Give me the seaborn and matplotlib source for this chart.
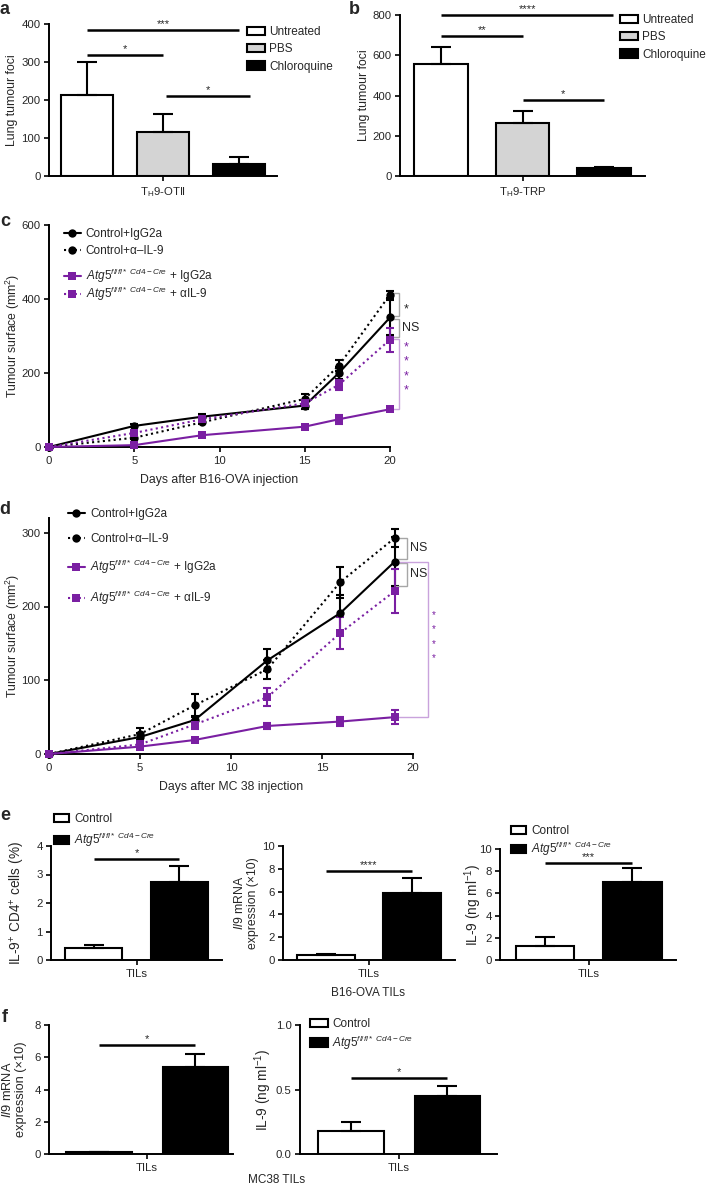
import numpy as np
import pandas as pd
import matplotlib
matplotlib.use("Agg")
import matplotlib.pyplot as plt
import seaborn as sns
from matplotlib.patches import Patch
from matplotlib.lines import Line2D

# ---------------- data ----------------
treatments = ["Untreated", "PBS", "Chloroquine"]
treat_colors = ["white", "#d4d4d4", "black"]
a_means = [212, 115, 32]
a_errs = [88, 48, 18]
b_means = [558, 262, 40]
b_errs = [84, 63, 3]

c_days = [0, 5, 9, 15, 17, 20]
c_ctrl_igg = [0, 57, 82, 112, 200, 350]
c_ctrl_igg_err = [0, 4, 8, 10, 15, 46]
c_ctrl_il9 = [0, 25, 67, 130, 220, 412]
c_ctrl_il9_err = [0, 4, 6, 12, 15, 10]
c_atg_igg = [0, 5, 32, 55, 75, 102]
c_atg_igg_err = [0, 3, 4, 4, 12, 4]
c_atg_il9 = [0, 38, 75, 118, 168, 290]
c_atg_il9_err = [0, 4, 6, 8, 14, 32]

d_days = [0, 5, 8, 12, 16, 19]
d_ctrl_igg = [0, 23, 46, 127, 191, 261]
d_ctrl_igg_err = [0, 5, 6, 15, 25, 33]
d_ctrl_il9 = [0, 27, 66, 115, 233, 293]
d_ctrl_il9_err = [0, 8, 16, 13, 21, 12]
d_atg_igg = [0, 10, 19, 38, 44, 50]
d_atg_igg_err = [0, 3, 2, 4, 6, 9]
d_atg_il9 = [0, 13, 40, 77, 164, 221]
d_atg_il9_err = [0, 3, 6, 12, 22, 30]

genotypes = ["Control", "Atg5"]
geno_colors = ["white", "black"]
e1_means = [0.42, 2.75]
e1_errs = [0.10, 0.55]
e2_means = [0.45, 5.9]
e2_errs = [0.05, 1.3]
e3_means = [1.25, 7.0]
e3_errs = [0.8, 1.25]
f1_means = [0.1, 5.4]
f1_errs = [0.02, 0.8]
f2_means = [0.18, 0.45]
f2_errs = [0.07, 0.08]

PURPLE = "#7a1fa2"
LPURPLE = "#c9a3dc"
GRAY = "#a6a6a6"

# ---------------- style ----------------
sns.set_theme(style="ticks")
plt.rcParams["font.family"] = ["Liberation Sans", "DejaVu Sans"]
plt.rcParams["mathtext.fontset"] = "custom"
plt.rcParams["mathtext.rm"] = "Liberation Sans"
plt.rcParams["mathtext.it"] = "Liberation Sans:italic"
plt.rcParams["mathtext.bf"] = "Liberation Sans:bold"
plt.rcParams["axes.linewidth"] = 1.4
plt.rcParams["xtick.major.width"] = 1.4
plt.rcParams["ytick.major.width"] = 1.4
plt.rcParams["xtick.major.size"] = 3.5
plt.rcParams["ytick.major.size"] = 3.5
plt.rcParams["xtick.labelsize"] = 8.2
plt.rcParams["ytick.labelsize"] = 8.2
plt.rcParams["axes.labelsize"] = 8.8
plt.rcParams["xtick.major.pad"] = 3
plt.rcParams["ytick.major.pad"] = 2.5
plt.rcParams["axes.edgecolor"] = "black"

W, H = 706, 1186
fig = plt.figure(figsize=(W / 100, H / 100), dpi=100)


def axes_px(x0, x1, ytop, ybot):
    ax = fig.add_axes([x0 / W, 1 - ybot / H, (x1 - x0) / W, (ybot - ytop) / H])
    ax._px = (x0, x1)
    return ax


def ftext(x, y, s, **kw):
    fig.text(x / W, 1 - y / H, s, **kw)


def place_ylabel(ax, x_px):
    x0, x1 = ax._px
    ax.yaxis.set_label_coords((x_px - x0) / (x1 - x0), 0.5)
    ax.yaxis.label.set_verticalalignment("center")


def bar_panel(ax, cat, means, errs, levels, colors, gap, xlim, ylim, yticks, ylabel, ylab_x,
              ylab_fs=8.8):
    df = pd.DataFrame({"group": [cat] * len(levels), "level": levels, "value": means})
    sns.barplot(data=df, x="group", y="value", hue="level", hue_order=levels,
                palette=colors, edgecolor="black", linewidth=1.5, gap=gap, width=0.8,
                errorbar=None, legend=False, saturation=1, ax=ax)
    centers = []
    for p, m, e in zip(ax.patches, means, errs):
        cx = p.get_x() + p.get_width() / 2
        centers.append(cx)
        ax.errorbar(cx, m, yerr=[[0], [e]], fmt="none", ecolor="black", elinewidth=1.5,
                    capsize=7, capthick=1.5, zorder=1)
    ax.set_xlim(*xlim)
    ax.set_ylim(*ylim)
    ax.set_yticks(yticks)
    ax.set_xticks([0])
    ax.set_xticklabels([cat])
    ax.set_xlabel("")
    ax.set_ylabel(ylabel, fontsize=ylab_fs)
    place_ylabel(ax, ylab_x)
    sns.despine(ax=ax)
    return centers


def sig(ax, x1, x2, y, text, fs=8):
    ax.plot([x1, x2], [y, y], color="black", lw=1.8, solid_capstyle="butt", clip_on=False)
    ax.annotate(text, xy=((x1 + x2) / 2, y), xytext=(0, 0.5), textcoords="offset points",
                ha="center", va="bottom", fontsize=fs)


def bar_legend(ax, labels, colors, x_px, y_px, fs=8.5, spacing=0.45, hl=1.5, hh=0.7):
    handles = [Patch(facecolor=c, edgecolor="black", linewidth=1.5) for c in colors]
    ax.legend(handles, labels, loc="upper left", bbox_to_anchor=(x_px / W, 1 - y_px / H),
              bbox_transform=fig.transFigure, frameon=False, borderpad=0, borderaxespad=0,
              handlelength=hl, handleheight=hh, handletextpad=0.4, labelspacing=spacing,
              fontsize=fs)


# ---------------- panel a ----------------
ax_a = axes_px(49, 277, 24, 176)
ca = bar_panel(ax_a, r"T$_\mathregular{H}$9-OTII", a_means, a_errs, treatments, treat_colors,
               0.32, (-0.4, 0.4), (0, 400), [0, 100, 200, 300, 400], "Lung tumour foci", 12)
sig(ax_a, ca[0], ca[2], 384, "***")
sig(ax_a, ca[0], ca[1], 318, "*")
sig(ax_a, ca[1] + 0.01, ca[2] + 0.04, 210, "*")
bar_legend(ax_a, treatments, treat_colors, 247, 26)

# ---------------- panel b ----------------
ax_b = axes_px(400, 645, 15, 176)
cb = bar_panel(ax_b, r"T$_\mathregular{H}$9-TRP", b_means, b_errs, treatments, treat_colors,
               0.34, (-0.4, 0.4), (0, 800), [0, 200, 400, 600, 800], "Lung tumour foci", 364)
sig(ax_b, cb[0], cb[2] + 0.03, 800, "****")
sig(ax_b, cb[0], cb[1], 696, "**")
sig(ax_b, cb[1], cb[2], 378, "*")
bar_legend(ax_b, treatments, treat_colors, 620, 14)

# ---------------- line panels ----------------
series_labels = [
    "Control+IgG2a",
    "Control+α–IL-9",
    r"$\mathit{Atg5}^{\mathit{fl/fl*\ Cd4-Cre}}$ + IgG2a",
    r"$\mathit{Atg5}^{\mathit{fl/fl*\ Cd4-Cre}}$ + αIL-9",
]
series_colors = ["black", "black", PURPLE, PURPLE]
DOT = (1, 1.6)
series_dashes = ["", DOT, "", DOT]
series_markers = ["o", "o", "s", "s"]


def line_panel(ax, days, vals, errs, xlim, ylim, yticks, xlabel):
    rows = []
    for lab, v in zip(series_labels, vals):
        for dd, vv in zip(days, v):
            rows.append({"day": dd, "value": vv, "series": lab})
    df = pd.DataFrame(rows)
    sns.lineplot(data=df, x="day", y="value", hue="series", style="series",
                 hue_order=series_labels, style_order=series_labels,
                 palette=dict(zip(series_labels, series_colors)),
                 dashes=dict(zip(series_labels, series_dashes)),
                 markers=dict(zip(series_labels, series_markers)),
                 markersize=6, markeredgewidth=0, linewidth=1.5, errorbar=None,
                 legend=False, ax=ax, clip_on=False, zorder=3)
    for v, e, col in zip(vals, errs, series_colors):
        ax.errorbar(days, v, yerr=e, fmt="none", ecolor=col, elinewidth=1.5, capsize=3,
                    capthick=1.5, clip_on=False, zorder=2)
    ax.set_xlim(*xlim)
    ax.set_ylim(*ylim)
    ax.set_yticks(yticks)
    ax.set_xticks([0, 5, 10, 15, 20])
    ax.set_xlabel(xlabel, labelpad=6)
    ax.set_ylabel(r"Tumour surface (mm$^2$)")
    place_ylabel(ax, 13)
    sns.despine(ax=ax)


def line_handles(idx):
    hs = []
    for i in idx:
        ls = "-" if series_dashes[i] == "" else (0, DOT)
        hs.append(Line2D([0], [0], color=series_colors[i], linestyle=ls, lw=1.5,
                         marker=series_markers[i], markersize=6, markeredgewidth=0))
    return hs


def bracket(ax, x0, x1, ytop, ybot, color, lw=1.0):
    ax.plot([x0, x1, x1, x0], [ytop, ytop, ybot, ybot], color=color, lw=lw, clip_on=False,
            solid_joinstyle="miter")


# ---------------- panel c ----------------
ax_c = axes_px(49, 390, 225, 447)
line_panel(ax_c, c_days, [c_ctrl_igg, c_ctrl_il9, c_atg_igg, c_atg_il9],
           [c_ctrl_igg_err, c_ctrl_il9_err, c_atg_igg_err, c_atg_il9_err],
           (0, 20), (0, 600), [0, 200, 400, 600], "Days after B16-OVA injection")
lg1 = ax_c.legend(line_handles([0, 1]), series_labels[:2], loc="upper left",
                  bbox_to_anchor=(64 / W, 1 - 228 / H), bbox_transform=fig.transFigure,
                  frameon=False, borderpad=0, borderaxespad=0, handlelength=1.4,
                  handletextpad=0.45, labelspacing=0.45, fontsize=8.5)
ax_c.add_artist(lg1)
ax_c.legend(line_handles([2, 3]), series_labels[2:], loc="upper left",
            bbox_to_anchor=(64 / W, 1 - 267 / H), bbox_transform=fig.transFigure,
            frameon=False, borderpad=0, borderaxespad=0, handlelength=1.4,
            handletextpad=0.45, labelspacing=0.0, fontsize=8.5)
bracket(ax_c, 20.1, 20.5, 416, 354, GRAY)
ax_c.text(20.95, 372, "*", ha="center", va="center", fontsize=9, clip_on=False)
bracket(ax_c, 20.1, 20.5, 346, 297, GRAY)
ax_c.text(20.68, 322, "NS", ha="left", va="center", fontsize=9, clip_on=False)
bracket(ax_c, 20.1, 20.5, 292, 104, LPURPLE)
for ys in [270, 230, 192, 153]:
    ax_c.text(20.95, ys, "*", ha="center", va="center", fontsize=9, color=PURPLE,
              clip_on=False)

# ---------------- panel d ----------------
ax_d = axes_px(49, 413, 518, 754)
line_panel(ax_d, d_days, [d_ctrl_igg, d_ctrl_il9, d_atg_igg, d_atg_il9],
           [d_ctrl_igg_err, d_ctrl_il9_err, d_atg_igg_err, d_atg_il9_err],
           (0, 20), (0, 320), [0, 100, 200, 300], "Days after MC 38 injection")
ax_d.legend(line_handles([0, 1, 2, 3]), series_labels, loc="upper left",
            bbox_to_anchor=(68 / W, 1 - 508 / H), bbox_transform=fig.transFigure,
            frameon=False, borderpad=0, borderaxespad=0, handlelength=1.4,
            handletextpad=0.5, labelspacing=1.1, fontsize=8.5)
bracket(ax_d, 19.05, 19.65, 293, 265, GRAY)
ax_d.text(19.85, 279, "NS", ha="left", va="center", fontsize=9, clip_on=False)
bracket(ax_d, 19.05, 19.65, 259, 228, GRAY)
ax_d.text(19.85, 244, "NS", ha="left", va="center", fontsize=9, clip_on=False)
bracket(ax_d, 19.0, 20.82, 261, 50, LPURPLE)
for ys in [188, 169, 149, 130]:
    ax_d.text(21.15, ys, "*", ha="center", va="center", fontsize=7, color=PURPLE,
              clip_on=False)

# ---------------- panel e ----------------
atg_label = r"$\mathit{Atg5}^{\mathit{fl/fl*\ Cd4-Cre}}$"
geno_labels = ["Control", atg_label]
ax_e1 = axes_px(51, 222, 846, 960)
ce1 = bar_panel(ax_e1, "TILs", e1_means, e1_errs, genotypes, geno_colors, 0.33,
                (-0.4, 0.4), (0, 4), [0, 1, 2, 3, 4], "IL-9$^{+}$ CD4$^{+}$ cells (%)", 18,
                ylab_fs=9.8)
sig(ax_e1, ce1[0], ce1[1], 3.55, "*")
bar_legend(ax_e1, geno_labels, geno_colors, 54, 813, fs=8.5, spacing=0.5, hl=1.3, hh=0.7)

ax_e2 = axes_px(283, 455, 846, 960)
ce2 = bar_panel(ax_e2, "TILs", e2_means, e2_errs, genotypes, geno_colors, 0.33,
                (-0.4, 0.4), (0, 10), [0, 2, 4, 6, 8, 10],
                "$\\mathit{Il9}$ mRNA\nexpression (×10)", 246, ylab_fs=8.8)
sig(ax_e2, ce2[0], ce2[1], 7.8, "****")

ax_e3 = axes_px(500, 676, 849, 960)
ce3 = bar_panel(ax_e3, "TILs", e3_means, e3_errs, genotypes, geno_colors, 0.33,
                (-0.405, 0.4), (0, 10), [0, 2, 4, 6, 8, 10], "IL-9 (ng ml$^{-1}$)", 473,
                ylab_fs=9.8)
sig(ax_e3, ce3[0], ce3[1], 8.75, "***")
bar_legend(ax_e3, geno_labels, geno_colors, 511, 825, fs=8.5, spacing=0.25, hl=1.3, hh=0.7)

ftext(368, 993, "B16-OVA TILs", ha="center", va="center", fontsize=8.5)

# ---------------- panel f ----------------
ax_f1 = axes_px(49, 233, 1025, 1154)
cf1 = bar_panel(ax_f1, "TILs", f1_means, f1_errs, genotypes, geno_colors, 0.32,
                (-0.405, 0.355), (0, 8), [0, 2, 4, 6, 8],
                "$\\mathit{Il9}$ mRNA\nexpression (×10)", 14, ylab_fs=9.2)
sig(ax_f1, cf1[0], cf1[1], 6.75, "*")

ax_f2 = axes_px(300, 497, 1025, 1154)
cf2 = bar_panel(ax_f2, "TILs", f2_means, f2_errs, genotypes, geno_colors, 0.32,
                (-0.41, 0.405), (0, 1.0), [0.0, 0.5, 1.0], "IL-9 (ng ml$^{-1}$)", 263,
                ylab_fs=9.8)
ax_f2.set_yticklabels(["0.0", "0.5", "1.0"])
sig(ax_f2, cf2[0], cf2[1], 0.59, "*")
bar_legend(ax_f2, geno_labels, geno_colors, 310, 1018, fs=8.5, spacing=0.3, hl=1.5, hh=0.7)

ftext(277, 1180, "MC38 TILs", ha="center", va="center", fontsize=8.5)

# ---------------- panel letters ----------------
for letter, (x, y) in {"a": (5, 10), "b": (354, 10), "c": (5, 222), "d": (5, 510),
                       "e": (5, 815), "f": (5, 1017)}.items():
    ftext(x, y, letter, ha="center", va="center", fontsize=13, fontweight="bold")

fig.savefig("out.png", dpi=100)
